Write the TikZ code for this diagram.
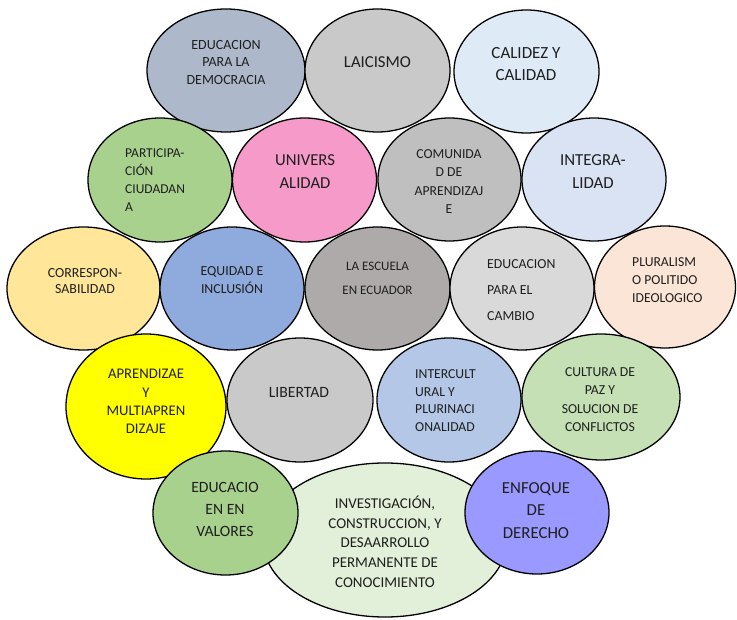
\documentclass[tikz,border=0pt]{standalone}
\usepackage{fontspec}
\setmainfont{Carlito}
\usetikzlibrary{shapes.geometric}
\definecolor{txt}{HTML}{1F1F1F}
\definecolor{cA}{HTML}{ADB9CA}
\definecolor{cB}{HTML}{C9C9C9}
\definecolor{cC}{HTML}{DEEBF7}
\definecolor{cD}{HTML}{A9D18E}
\definecolor{cE}{HTML}{F59AC9}
\definecolor{cF}{HTML}{BFBFBF}
\definecolor{cG}{HTML}{DAE3F3}
\definecolor{cH}{HTML}{FFE699}
\definecolor{cI}{HTML}{8FAADC}
\definecolor{cJ}{HTML}{AEAAAA}
\definecolor{cK}{HTML}{D9D9D9}
\definecolor{cL}{HTML}{FBE5D6}
\definecolor{cM}{HTML}{FFFF00}
\definecolor{cN}{HTML}{B4C7E7}
\definecolor{cO}{HTML}{C5E0B4}
\definecolor{cP}{HTML}{E2F0D9}
\definecolor{cQ}{HTML}{9999FF}
\newcommand\myfs[2]{\fontsize{#1}{#2}\selectfont}
\tikzset{
  bub/.style={ellipse, draw=black, line width=1.3pt, inner sep=0pt},
  lbl/.style={text=txt, inner sep=0pt, align=center},
  lbll/.style={text=txt, inner sep=0pt, align=left, anchor=west}
}
\begin{document}
\begin{tikzpicture}[x=1pt,y=-1pt]
\fill[white] (0,0) rectangle (737,620);
\useasboundingbox (0,0) rectangle (737,620);
% row 1
\node[bub, fill=cA, minimum width=158pt, minimum height=123pt] (e1) at (226,70.5) {};
\node[bub, fill=cB, minimum width=145pt, minimum height=123pt] (e2) at (377.5,70.5) {};
\node[bub, fill=cC, minimum width=145pt, minimum height=123pt] (e3) at (526.5,71.5) {};
% row 2
\node[bub, fill=cD, minimum width=144pt, minimum height=124pt] (e4) at (160,180) {};
\node[bub, fill=cE, minimum width=144pt, minimum height=124pt] (e5) at (304.5,180) {};
\node[bub, fill=cF, minimum width=143pt, minimum height=123pt] (e6) at (449.5,179.5) {};
\node[bub, fill=cG, minimum width=144pt, minimum height=123pt] (e7) at (594,179.5) {};
% row 3
\node[bub, fill=cH, minimum width=153pt, minimum height=123pt] (e8) at (83.5,288.5) {};
\node[bub, fill=cI, minimum width=144pt, minimum height=123pt] (e9) at (232,288.5) {};
\node[bub, fill=cJ, minimum width=145pt, minimum height=123pt] (e10) at (377.5,288.5) {};
\node[bub, fill=cK, minimum width=144pt, minimum height=123pt] (e11) at (522,288.5) {};
\node[bub, fill=cL, minimum width=141pt, minimum height=122pt] (e12) at (665,287) {};
% row 4
\node[bub, fill=cM, minimum width=160pt, minimum height=145pt] (e13) at (146,406.5) {};
\node[bub, fill=cB, minimum width=146pt, minimum height=124pt] (e14) at (300,400) {};
\node[bub, fill=cN, minimum width=144pt, minimum height=124pt] (e15) at (449,400) {};
\node[bub, fill=cO, minimum width=158pt, minimum height=126pt] (e16) at (601,397) {};
% row 5
\node[bub, fill=cP, minimum width=244pt, minimum height=154pt] (e18) at (385,540) {};
\node[bub, fill=cD, minimum width=145pt, minimum height=124pt] (e17) at (225.5,513) {};
\node[bub, fill=cQ, minimum width=144pt, minimum height=123pt] (e19) at (537,512.5) {};
% texts
\node[lbl, font=\myfs{14}{17.5}] (t1) at (226,62.5) {EDUCACION\\PARA LA\\DEMOCRACIA};
\node[lbl, font=\myfs{16.7}{20}] (t2) at (377.5,62) {LAICISMO};
\node[lbl, font=\myfs{17}{22}] (t3) at (526,64) {CALIDEZ Y\\CALIDAD};
\node[lbll, font=\myfs{13.5}{18}] (t4) at (125,180) {PARTICIPA-\\CIÓN\\CIUDADAN\\A};
\node[lbl, font=\myfs{16.7}{23}] (t5) at (305,171.5) {UNIVERS\\ALIDAD};
\node[lbl, font=\myfs{13.7}{18.4}] (t6) at (449,181.5) {COMUNIDA\\D DE\\APRENDIZAJ\\E};
\node[lbl, font=\myfs{16.8}{23}] (t7) at (593,171.5) {INTEGRA-\\LIDAD};
\node[lbl, font=\myfs{13.9}{16.5}] (t8) at (85,281) {CORRESPON-\\SABILIDAD};
\node[lbl, font=\myfs{13.8}{18.3}] (t9) at (232,280) {EQUIDAD E\\INCLUSIÓN};
\node[lbl, font=\myfs{13}{24}] (t10) at (377.5,278) {LA ESCUELA\\EN ECUADOR};
\node[lbll, font=\myfs{13.8}{26}] (t11) at (487,290) {EDUCACION\\PARA EL\\CAMBIO};
\node[lbll, font=\myfs{13.7}{18}] (t12) at (632,280) {PLURALISM\\O POLITIDO\\IDEOLOGICO};
\node[lbl, font=\myfs{14.7}{18.3}] (t13) at (146,401.5) {APRENDIZAE\\Y\\MULTIAPREN\\DIZAJE};
\node[lbl, font=\myfs{15.7}{19}] (t14) at (299,392) {LIBERTAD};
\node[lbll, font=\myfs{13.7}{17.7}] (t15) at (415,400.5) {INTERCULT\\URAL Y\\PLURINACI\\ONALIDAD};
\node[lbl, font=\myfs{13.7}{18.3}] (t16) at (600,399.5) {CULTURA DE\\PAZ Y\\SOLUCION DE\\CONFLICTOS};
\node[lbl, font=\myfs{15.7}{22}] (t17) at (225,509) {EDUCACIO\\EN EN\\VALORES};
\node[lbl, font=\myfs{15}{19.85}] (t18) at (385,541.7) {INVESTIGACIÓN,\\CONSTRUCCION, Y\\DESAARROLLO\\PERMANENTE DE\\CONOCIMIENTO};
\node[lbl, font=\myfs{16.8}{22.5}] (t19) at (536,510.5) {ENFOQUE\\DE\\DERECHO};
\end{tikzpicture}
\end{document}
